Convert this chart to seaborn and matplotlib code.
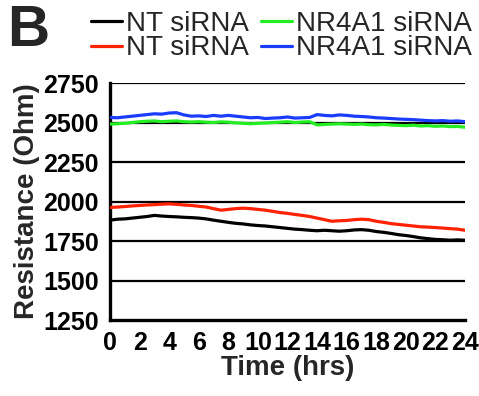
import numpy as np
import pandas as pd
import seaborn as sns
import matplotlib
matplotlib.use("Agg")
import matplotlib.pyplot as plt

# zaman (saat), her 0.5 saatte bir okuma
time_hrs = np.arange(0, 24.5, 0.5)

nt_black = [1882, 1888, 1890, 1895, 1900, 1905, 1912, 1908, 1905, 1903,
            1900, 1898, 1895, 1890, 1882, 1875, 1868, 1862, 1858, 1852,
            1848, 1845, 1840, 1835, 1830, 1825, 1822, 1818, 1815, 1818,
            1815, 1812, 1815, 1820, 1822, 1818, 1810, 1805, 1798, 1790,
            1785, 1778, 1770, 1765, 1760, 1758, 1755, 1757, 1755]
nt_red = [1962, 1965, 1968, 1972, 1975, 1978, 1980, 1983, 1985, 1982,
          1978, 1975, 1970, 1965, 1955, 1945, 1950, 1955, 1958, 1955,
          1950, 1945, 1938, 1930, 1925, 1918, 1912, 1905, 1895, 1885,
          1875, 1878, 1880, 1885, 1888, 1885, 1875, 1868, 1860, 1855,
          1850, 1845, 1840, 1838, 1835, 1832, 1828, 1825, 1818]
nr4a1_green = [2490, 2492, 2495, 2500, 2505, 2508, 2510, 2505, 2508, 2510,
               2505, 2503, 2505, 2502, 2500, 2504, 2502, 2498, 2495, 2492,
               2495, 2497, 2500, 2502, 2505, 2500, 2503, 2505, 2485, 2488,
               2490, 2492, 2490, 2488, 2490, 2486, 2485, 2488, 2484, 2482,
               2480, 2483, 2478, 2480, 2476, 2478, 2474, 2475, 2470]
nr4a1_blue = [2532, 2530, 2535, 2540, 2545, 2550, 2555, 2553, 2560, 2562,
              2548, 2540, 2542, 2538, 2545, 2540, 2545, 2540, 2535, 2530,
              2532, 2525, 2528, 2530, 2535, 2528, 2530, 2532, 2550, 2545,
              2542, 2548, 2545, 2540, 2538, 2535, 2530, 2528, 2525, 2522,
              2520, 2518, 2515, 2512, 2510, 2512, 2508, 2510, 2505]

labels = ["NT siRNA", "NT siRNA", "NR4A1 siRNA", "NR4A1 siRNA"]
colors = ["#000000", "#ff2200", "#22ee22", "#1a3cff"]
series = [nt_black, nt_red, nr4a1_green, nr4a1_blue]

y_ticks = [1250, 1500, 1750, 2000, 2250, 2500, 2750]
x_ticks = list(range(0, 25, 2))

sns.set_style("white")
plt.rcParams["font.family"] = ["Liberation Sans", "DejaVu Sans"]

fig = plt.figure(figsize=(4.79, 3.96), dpi=100)
ax = fig.add_axes([0.2296, 0.1919, 0.7412, 0.5985])

# yatay ızgara çizgileri
for yv in y_ticks[1:]:
    ax.axhline(yv, color="black", lw=1.6, zorder=1)

for vals, col, lab in zip(series, colors, labels):
    sns.lineplot(x=time_hrs, y=vals, color=col, label=lab, lw=2.3, ax=ax, zorder=3)

ax.set_xlim(0, 24)
ax.set_ylim(1250, 2750)
ax.set_xticks(x_ticks)
ax.set_yticks(y_ticks)
ax.tick_params(axis="both", direction="out", length=7, width=2.2,
               labelsize=18, pad=1, colors="black")
for t in ax.get_xticklabels() + ax.get_yticklabels():
    t.set_fontweight("bold")
for s in ["top", "right"]:
    ax.spines[s].set_visible(False)
for s in ["left", "bottom"]:
    ax.spines[s].set_linewidth(2.4)
    ax.spines[s].set_color("black")

ax.set_xlabel("Time (hrs)", fontsize=20, fontweight="bold", labelpad=0)
ax.set_ylabel("Resistance (Ohm)", fontsize=20, fontweight="bold", labelpad=2)

handles, labs = ax.get_legend_handles_labels()
ax.get_legend().remove()
fig.legend(handles, labs, ncol=2, loc="upper right", bbox_to_anchor=(1.02, 1.015),
           frameon=False, fontsize=20, handlelength=1.1, handletextpad=0.15,
           columnspacing=0.45, labelspacing=-0.05, borderpad=0.1)

fig.text(0.015, 0.99, "B", fontsize=42, fontweight="bold", va="top", ha="left")

fig.savefig("out.png", dpi=100)
